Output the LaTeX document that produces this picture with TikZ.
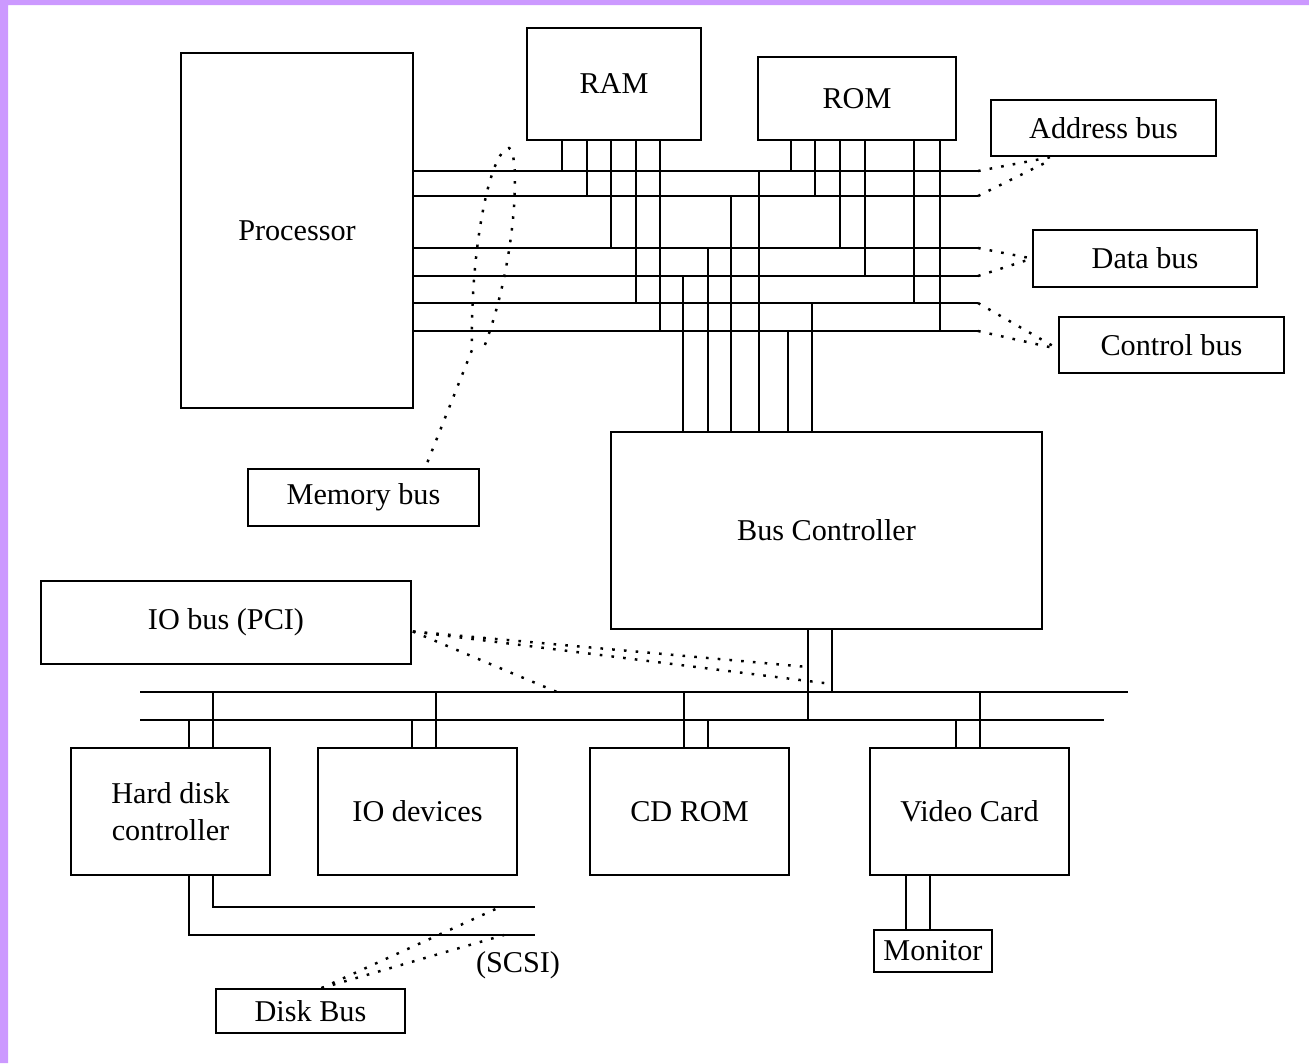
\documentclass[tikz,border=0pt]{standalone}
\usepackage{fontspec}
\setmainfont{Liberation Serif}
\usepackage{tikz}
\usetikzlibrary{calc}
\definecolor{frame}{RGB}{204,153,255}

\begin{document}
\begin{tikzpicture}[x=0.02cm, y=-0.02cm, line width=1pt]
    \tikzstyle{every node}=[font=\fontsize{17.2}{21}\selectfont]
    \tikzstyle{unit}=[draw=black, rectangle, inner sep=0pt, align=center]
    \tikzstyle{tag}=[dash pattern=on 1.5pt off 5.2pt, line width=1.4pt]
    \useasboundingbox (0,0) rectangle (1309,1063);
    \fill[frame] (0,0) rectangle (1309,5) (0,0) rectangle (8,1063);
    % memory side
    \node[unit, minimum width=4.64cm, minimum height=7.10cm] (proc)   at (297,230.5)  {Processor};
    \node[unit, minimum width=3.48cm, minimum height=2.24cm] (ram)    at (614,84)     {RAM};
    \node[unit, minimum width=3.96cm, minimum height=1.66cm] (rom)    at (857,98.5)   {ROM};
    \node[unit, minimum width=4.50cm, minimum height=1.12cm] (addr)   at (1103.5,128) {Address bus};
    \node[unit, minimum width=4.48cm, minimum height=1.14cm] (data)   at (1145,258.5) {Data bus};
    \node[unit, minimum width=4.50cm, minimum height=1.12cm] (ctrl)   at (1171.5,345) {Control bus};
    \node[unit, minimum width=4.62cm, minimum height=1.14cm] (mem)    at (363.5,497.5) {Memory bus};
    \node[unit, minimum width=8.62cm, minimum height=3.94cm] (busctl) at (826.5,530.5) {Bus Controller};
    % io side
    \node[unit, minimum width=7.40cm, minimum height=1.66cm] (iobus)  at (226,622.5)  {IO bus (PCI)};
    \node[unit, minimum width=3.98cm, minimum height=2.54cm] (hdc)    at (170.5,811.5) {Hard disk\\controller};
    \node[unit, minimum width=3.98cm, minimum height=2.54cm] (iodev)  at (417.5,811.5) {IO devices};
    \node[unit, minimum width=3.98cm, minimum height=2.54cm] (cdrom)  at (689.5,811.5) {CD ROM};
    \node[unit, minimum width=3.98cm, minimum height=2.54cm] (video)  at (969.5,811.5) {Video Card};
    \node[unit, minimum width=2.36cm, minimum height=0.84cm] (mon)    at (933,951)    {Monitor};
    \node[unit, minimum width=3.78cm, minimum height=0.88cm] (disk)   at (310.5,1011) {Disk Bus};
    \node (scsi) at (518,965) {(SCSI)};

    \foreach \n/\y in {a1/171, a2/196, d1/248, d2/276, c1/303, c2/331}
      \coordinate (\n) at (978,\y);
    \foreach \n in {a1,a2,d1,d2,c1,c2}
      \draw (proc.east |- \n) -- (\n);
    \foreach \x/\n in {562/a1, 587/a2, 611/d1, 636/c1, 660/c2}
      \draw (ram.south -| \x,0) -- (\n -| \x,0);
    \foreach \x/\n in {791/a1, 815/a2, 840/d1, 865/d2, 914/c1, 940/c2}
      \draw (rom.south -| \x,0) -- (\n -| \x,0);
    \foreach \x/\n in {683/d2, 708/d1, 731/a2, 759/a1, 788/c2, 812/c1}
      \draw (\n -| \x,0) -- (busctl.north -| \x,0);

    \draw[tag] (a1) -- ($(addr.south west)+(62,0)$);
    \draw[tag] (a2) -- ($(addr.south west)+(59,4)$);
    \draw[tag] (d1) -- (data.west);
    \draw[tag] (d2) -- (data.west);
    \draw[tag] (c1) -- ($(ctrl.west)+(0,4)$);
    \draw[tag] (c2) -- ($(ctrl.west)+(0,4)$);
    \draw[tag] ($(mem.north)+(64,-6)$) -- (472,350) .. controls (470,250) and (490,150) .. (509,148)
      .. controls (520,150) and (518,260) .. (483,350);

    \coordinate (io1w) at (140,692);  \coordinate (io1e) at (1128,692);
    \coordinate (io2w) at (140,720);  \coordinate (io2e) at (1104,720);
    \draw (io1w) -- (io1e);
    \draw (io2w) -- (io2e);
    \foreach \x/\n/\b in {189/io2w/hdc, 213/io1w/hdc, 412/io2w/iodev, 436/io1w/iodev,
                          684/io1w/cdrom, 708/io2w/cdrom, 956/io2w/video, 980/io1w/video}
      \draw (\n -| \x,0) -- (\b.north -| \x,0);
    \draw (busctl.south -| 808,0) -- (io2w -| 808,0);
    \draw (busctl.south -| 832,0) -- (io1w -| 832,0);

    \coordinate (pci) at ($(iobus.east)+(1,9)$);
    \coordinate (pcia) at (557,692);
    \coordinate (pcib) at (808,667);
    \coordinate (pcic) at (832,684);
    \draw[tag] (pci) -- (pcia);
    \draw[tag] (pci) -- (pcib);
    \draw[tag] (pci) -- (pcic);

    \coordinate (scsi1) at (535,907);
    \coordinate (scsi2) at (535,935);
    \draw (hdc.south -| 213,0) |- (scsi1);
    \draw (hdc.south -| 189,0) |- (scsi2);
    \draw[tag] ($(disk.north)+(11,0)$) -- ($(scsi1)+(-35,0)$);
    \draw[tag] ($(disk.north)+(11,0)$) -- ($(scsi2)+(-31,0)$);

    \draw (video.south -| 906,0) -- (mon.north -| 906,0);
    \draw (video.south -| 930,0) -- (mon.north -| 930,0);
\end{tikzpicture}
\end{document}
